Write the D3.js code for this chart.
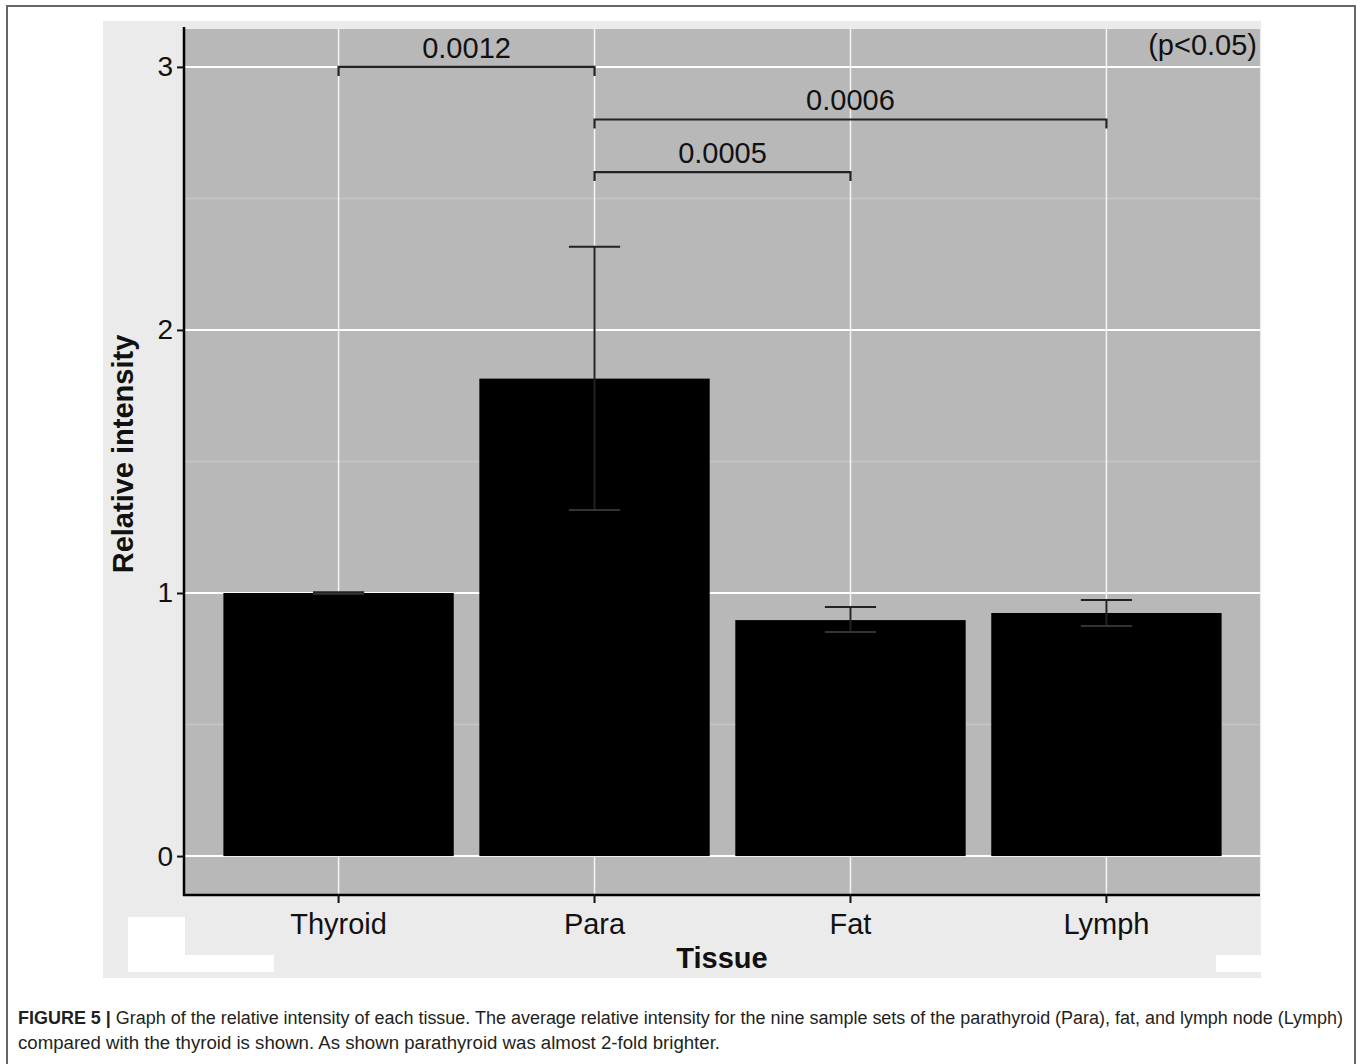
<!DOCTYPE html>
<html>
<head>
<meta charset="utf-8">
<script src="https://cdn.jsdelivr.net/npm/d3@7"></script>
<style>
  body { margin: 0; background: #fff; }
  text { font-family: "Liberation Sans", Arial, sans-serif; }
</style>
</head>
<body>
<div id="plot"></div>
<script>
// data
const tissues = ["Thyroid", "Para", "Fat", "Lymph"];
const means = [1.0, 1.815, 0.897, 0.924];
const errLow = [0.997, 1.316, 0.852, 0.875];
const errHigh = [1.003, 2.316, 0.947, 0.973];
const yTicks = [0, 1, 2, 3];
const yMinor = [0.5, 1.5, 2.5];
const compFrom = ["Thyroid", "Para", "Para"];
const compTo = ["Para", "Lymph", "Fat"];
const compY = [3.0, 2.8, 2.6];
const compLabel = ["0.0012", "0.0006", "0.0005"];

const width = 1360,
  height = 1064;
const panel = { left: 185, right: 1260, top: 29, bottom: 895 };

const svg = d3.select("#plot").append("svg").attr("width", width).attr("height", height);

// outer figure frame
svg.append("rect").attr("x", 7).attr("y", 6).attr("width", 1348).attr("height", 1080)
  .attr("fill", "#fff").attr("stroke", "#666").attr("stroke-width", 2);

// plot background + white scan artefacts
svg.append("rect").attr("x", 103).attr("y", 21).attr("width", 1158).attr("height", 957).attr("fill", "#ebebeb");
svg.append("rect").attr("x", 128).attr("y", 917).attr("width", 57).attr("height", 55).attr("fill", "#fff");
svg.append("rect").attr("x", 128).attr("y", 955).attr("width", 146).attr("height", 17).attr("fill", "#fff");
svg.append("rect").attr("x", 1216).attr("y", 955).attr("width", 45).attr("height", 17).attr("fill", "#fff");

svg.append("rect")
  .attr("x", panel.left).attr("y", panel.top)
  .attr("width", panel.right - panel.left).attr("height", panel.bottom - panel.top)
  .attr("fill", "#b8b8b8");

const x = d3.scaleBand().domain(tissues).range([panel.left, panel.right]).paddingInner(0.1).paddingOuter(0.15);
const y = d3.scaleLinear().domain([-0.148, 3.144]).range([panel.bottom, panel.top]);
const cx = (d) => x(d) + x.bandwidth() / 2;

// grid
svg.append("g").selectAll("line").data(yMinor).join("line")
  .attr("x1", panel.left).attr("x2", panel.right)
  .attr("y1", (d) => y(d)).attr("y2", (d) => y(d))
  .attr("stroke", "#c6c6c6").attr("stroke-width", 1.5);
svg.append("g").selectAll("line").data(yTicks).join("line")
  .attr("x1", panel.left).attr("x2", panel.right)
  .attr("y1", (d) => y(d)).attr("y2", (d) => y(d))
  .attr("stroke", "#fff").attr("stroke-width", 2);
svg.append("g").selectAll("line").data(tissues).join("line")
  .attr("x1", cx).attr("x2", cx)
  .attr("y1", panel.top).attr("y2", panel.bottom)
  .attr("stroke", "#f4f4f4").attr("stroke-width", 1.5);

// bars
svg.append("g").selectAll("rect").data(tissues).join("rect")
  .attr("x", (d) => x(d)).attr("width", x.bandwidth())
  .attr("y", (d, i) => y(means[i])).attr("height", (d, i) => y(0) - y(means[i]))
  .attr("fill", "#000");

// error bars
const capW = x.step() * 0.2;
const eb = svg.append("g").attr("stroke", "#222").attr("stroke-width", 2);
eb.selectAll("line.v").data(tissues).join("line").attr("class", "v")
  .attr("x1", cx).attr("x2", cx)
  .attr("y1", (d, i) => y(errLow[i])).attr("y2", (d, i) => y(errHigh[i]));
eb.selectAll("line.hi").data(tissues).join("line").attr("class", "hi")
  .attr("x1", (d) => cx(d) - capW / 2).attr("x2", (d) => cx(d) + capW / 2)
  .attr("y1", (d, i) => y(errHigh[i])).attr("y2", (d, i) => y(errHigh[i]));
eb.selectAll("line.lo").data(tissues).join("line").attr("class", "lo")
  .attr("x1", (d) => cx(d) - capW / 2).attr("x2", (d) => cx(d) + capW / 2)
  .attr("y1", (d, i) => y(errLow[i])).attr("y2", (d, i) => y(errLow[i]))
  .attr("stroke", "#333");

// significance brackets
const br = svg.append("g");
compLabel.forEach((lab, i) => {
  const x1 = cx(compFrom[i]), x2 = cx(compTo[i]), yy = y(compY[i]);
  br.append("path")
    .attr("d", `M${x1},${yy + 9}V${yy}H${x2}V${yy + 9}`)
    .attr("fill", "none").attr("stroke", "#222").attr("stroke-width", 2.2);
  br.append("text").attr("x", (x1 + x2) / 2).attr("y", yy - 9)
    .attr("text-anchor", "middle").attr("font-size", 29).attr("fill", "#111").text(lab);
});

svg.append("text").attr("x", 1257).attr("y", 55).attr("text-anchor", "end")
  .attr("font-size", 29).attr("fill", "#111").text("(p<0.05)");

// axes
const yAxis = svg.append("g").attr("transform", `translate(${panel.left - 1},0)`)
  .call(d3.axisLeft(y).tickValues(yTicks).tickSize(7).tickPadding(4).tickFormat(d3.format("d")));
yAxis.select(".domain").attr("d", `M0,${panel.top - 2}V${panel.bottom + 1}`).attr("stroke", "#000").attr("stroke-width", 2.5);
yAxis.selectAll(".tick line").attr("stroke", "#111").attr("stroke-width", 2);
yAxis.selectAll(".tick text").attr("font-size", 28).attr("fill", "#111").attr("font-family", "Liberation Sans, Arial, sans-serif");

const xAxis = svg.append("g").attr("transform", `translate(0,${panel.bottom})`)
  .call(d3.axisBottom(x).tickSize(8).tickPadding(10));
xAxis.select(".domain").attr("d", `M${panel.left - 2},0H${panel.right}`).attr("stroke", "#000").attr("stroke-width", 2.5);
xAxis.selectAll(".tick line").attr("stroke", "#111").attr("stroke-width", 2);
xAxis.selectAll(".tick text").attr("font-size", 29).attr("fill", "#111").attr("font-family", "Liberation Sans, Arial, sans-serif");

// axis titles
svg.append("text").attr("x", 722).attr("y", 968).attr("text-anchor", "middle")
  .attr("font-size", 29).attr("font-weight", "bold").attr("fill", "#111").text("Tissue");
svg.append("text").attr("transform", "translate(133,454) rotate(-90)").attr("text-anchor", "middle")
  .attr("font-size", 29).attr("font-weight", "bold").attr("fill", "#111").text("Relative intensity");

// caption
const cap1 = svg.append("text").attr("x", 18).attr("y", 1024).attr("font-size", 18).attr("fill", "#231f20")
  .attr("font-family", "Liberation Sans Narrow, Arial Narrow, sans-serif");
cap1.append("tspan").attr("font-weight", "bold").text("FIGURE 5 | ");
cap1.append("tspan").text("Graph of the relative intensity of each tissue. The average relative intensity for the nine sample sets of the parathyroid (Para), fat, and lymph node (Lymph)");
cap1.attr("textLength", 1325).attr("lengthAdjust", "spacingAndGlyphs");
svg.append("text").attr("x", 18).attr("y", 1049).attr("font-size", 18).attr("fill", "#231f20")
  .attr("font-family", "Liberation Sans Narrow, Arial Narrow, sans-serif")
  .attr("textLength", 702).attr("lengthAdjust", "spacingAndGlyphs")
  .text("compared with the thyroid is shown. As shown parathyroid was almost 2-fold brighter.");
</script>
</body>
</html>
